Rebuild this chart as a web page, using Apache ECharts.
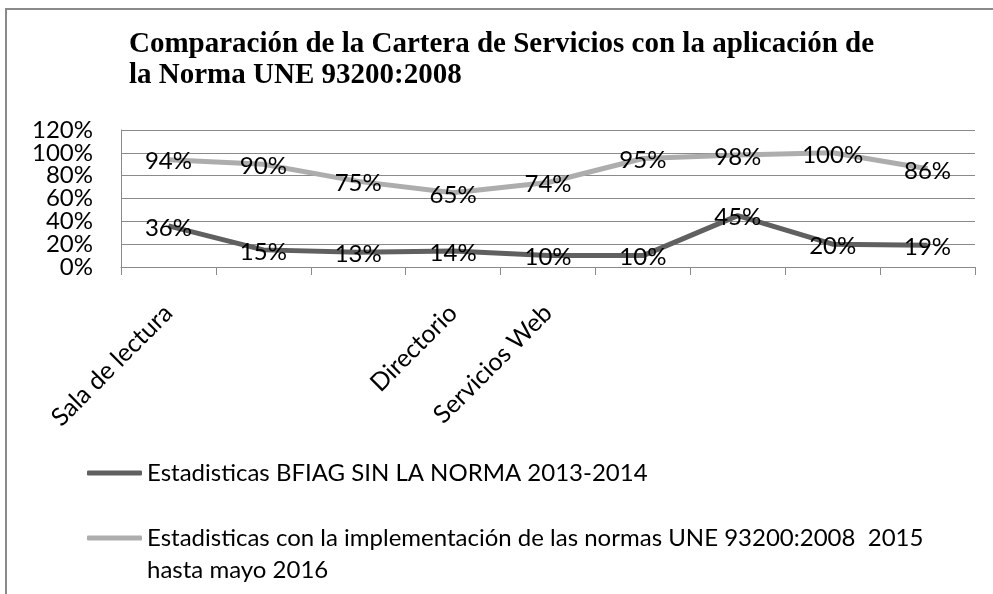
<!DOCTYPE html>
<html>
<head>
<meta charset="utf-8">
<script src="https://cdn.jsdelivr.net/npm/echarts@6/dist/echarts.min.js"></script>
<style>
  html, body { margin: 0; padding: 0; background: #fff; }
  #chart { width: 993px; height: 594px; }
</style>
</head>
<body>
<div id="chart"></div>
<script>
// categorias (solo se ven tres etiquetas en el original)
const categorias = ['Sala de lectura', '', '', 'Directorio', 'Servicios Web', '', '', '', '']
const sinNorma = [36, 15, 13, 14, 10, 10, 45, 20, 19]
const conNorma = [94, 90, 75, 65, 74, 95, 98, 100, 86]
const nombreSinNorma = 'Estadisticas BFIAG SIN LA NORMA 2013-2014'
const nombreConNorma = 'Estadisticas con la implementación de las normas UNE 93200:2008  2015\nhasta mayo 2016'
// las etiquetas del eje Y se reparten en dos ejes para que no se oculten al solaparse
const ticksPares = [0, 40, 80, 120]
const ticksImpares = [20, 60, 100]

const fuente = 'Lato, "Liberation Sans", sans-serif'
const oscuro = '#606060'
const claro = '#adadad'
const gris = '#8a8a8a'

const chart = echarts.init(document.getElementById('chart'))

const etiqueta = {
  show: true,
  position: 'inside',
  offset: [0, 2],
  formatter: '{c}%',
  color: '#000',
  fontFamily: fuente,
  fontSize: 24
}

const leyendaTexto = {
  fontFamily: fuente,
  fontSize: 24,
  lineHeight: 32,
  color: '#000'
}

const ejeY = (ticks, principal) => ({
  type: 'value',
  position: 'left',
  min: 0,
  max: 120,
  interval: 20,
  axisLine: { show: principal, lineStyle: { color: gris, width: 1 } },
  axisTick: { show: false },
  axisLabel: {
    formatter: v => (ticks.indexOf(v) >= 0 ? v + '%' : ''),
    margin: 28,
    color: '#000',
    fontFamily: fuente,
    fontSize: 24
  },
  splitLine: { show: principal, lineStyle: { color: gris, width: 1 } }
})

const option = {
  animation: false,
  backgroundColor: '#fff',
  title: {
    text: 'Comparación de la Cartera de Servicios con la aplicación de\nla Norma UNE 93200:2008',
    left: 129,
    top: 29,
    padding: 0,
    textStyle: {
      fontFamily: '"Liberation Serif", serif',
      fontWeight: 'bold',
      fontSize: 29,
      lineHeight: 31,
      color: '#000'
    }
  },
  graphic: [
    {
      type: 'polyline',
      shape: { points: [[6, 594], [6, 9], [993, 9]] },
      style: { stroke: gris, lineWidth: 2, fill: null }
    }
  ],
  legend: [
    {
      orient: 'vertical',
      left: 87,
      top: 457,
      padding: 0,
      itemWidth: 55,
      itemHeight: 5,
      icon: 'roundRect',
      textStyle: leyendaTexto,
      data: [nombreSinNorma]
    },
    {
      orient: 'vertical',
      left: 87,
      top: 490,
      padding: 0,
      itemWidth: 55,
      itemHeight: 5,
      icon: 'roundRect',
      textStyle: leyendaTexto,
      // linea vacia arriba para que la primera linea quede alineada con el simbolo
      formatter: name => '\n' + name,
      data: [nombreConNorma]
    }
  ],
  grid: {
    left: 121,
    right: 18,
    top: 130,
    bottom: 327
  },
  xAxis: {
    type: 'category',
    data: categorias,
    boundaryGap: true,
    axisLine: { show: true, lineStyle: { color: gris, width: 1 } },
    axisTick: { show: true, interval: 0, length: 8, lineStyle: { color: gris, width: 1 } },
    axisLabel: {
      interval: 0,
      rotate: 45,
      margin: 42,
      color: '#000',
      fontFamily: fuente,
      fontSize: 25
    },
    splitLine: { show: false }
  },
  yAxis: [ejeY(ticksPares, true), ejeY(ticksImpares, false)],
  series: [
    {
      name: nombreSinNorma,
      type: 'line',
      data: sinNorma,
      symbol: 'circle',
      symbolSize: 0.1,
      showSymbol: true,
      lineStyle: { color: oscuro, width: 5 },
      itemStyle: { color: oscuro },
      label: etiqueta,
      z: 3
    },
    {
      name: nombreConNorma,
      type: 'line',
      data: conNorma,
      symbol: 'circle',
      symbolSize: 0.1,
      showSymbol: true,
      lineStyle: { color: claro, width: 5 },
      itemStyle: { color: claro },
      label: etiqueta,
      z: 2
    }
  ]
}

chart.setOption(option)
window.addEventListener('resize', () => chart.resize())
</script>
</body>
</html>
